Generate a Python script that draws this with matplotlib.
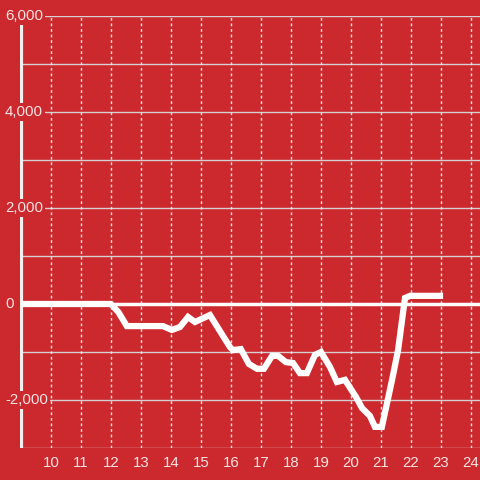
import matplotlib
matplotlib.use("Agg")
import matplotlib.pyplot as plt
from matplotlib.transforms import blended_transform_factory

times = [9.0, 12.0, 12.25, 12.53, 13.73, 14.03, 14.3, 14.57, 14.8, 15.3, 15.53,
         15.97, 16.07, 16.33, 16.6, 16.87, 17.1, 17.37, 17.57, 17.83, 18.07, 18.3,
         18.53, 18.8, 19.0, 19.3, 19.53, 19.8, 20.17, 20.37, 20.63, 20.8, 21.03,
         21.37, 21.57, 21.8, 21.97, 23.07]
values = [0, 0, -170, -460, -460, -540, -480, -270, -375, -230, -460,
          -900, -960, -940, -1250, -1350, -1350, -1080, -1080, -1210, -1230, -1440,
          -1440, -1060, -1000, -1310, -1625, -1580, -1940, -2170, -2330, -2560, -2560,
          -1580, -960, 125, 170, 170]
x_ticks = list(range(10, 25))
y_label_values = [6000, 4000, 2000, 0, -2000]
y_label_texts = ["6,000", "4,000", "2,000", "0", "-2,000"]
y_grid = [-3000, -2000, -1000, 1000, 2000, 3000, 4000, 5000, 6000]

BG = "#CC292E"
TXT = "#F5E4E4"

plt.rcParams['font.family'] = ['Liberation Sans', 'DejaVu Sans']
fig = plt.figure(figsize=(4.8, 4.8), dpi=100, facecolor=BG)
ax = fig.add_axes([20/480, 32/480, 460/480, 432/480], facecolor=BG)
ax.set_xlim(8.97, 24.3)
ax.set_ylim(-3000, 6000)

for s in ax.spines.values():
    s.set_visible(False)

# horizontal grid
for g in y_grid:
    ax.axhline(g, color="#D8D0D0", lw=1.0, zorder=1)
# vertical dotted grid
for t in x_ticks:
    ax.axvline(t, color="#F0E6E6", lw=1.0, ls=(0, (2, 2)), zorder=1)
# zero line
ax.axhline(0, color="white", lw=2.5, zorder=2)
# left spine
ax.axvline(ax.get_xlim()[0] + 0.02, color="#F5F0F0", lw=3, zorder=3)

ax.plot(times, values, color="white", lw=4.5, solid_joinstyle="miter",
        solid_capstyle="butt", zorder=4)

ax.set_xticks(x_ticks)
ax.set_xticklabels([str(t) for t in x_ticks])
ax.set_yticks([])
ax.tick_params(axis="x", length=0, pad=6, colors=TXT, labelsize=10.8)

trans = blended_transform_factory(fig.transFigure, ax.transData)
for v, s in zip(y_label_values, y_label_texts):
    ax.text(5/480, v, s, transform=trans, ha="left", va="center",
            color=TXT, fontsize=10.8, zorder=6, clip_on=False,
            bbox=dict(facecolor=BG, edgecolor="none", pad=1.5))

fig.savefig("out.png", dpi=100, facecolor=BG)
